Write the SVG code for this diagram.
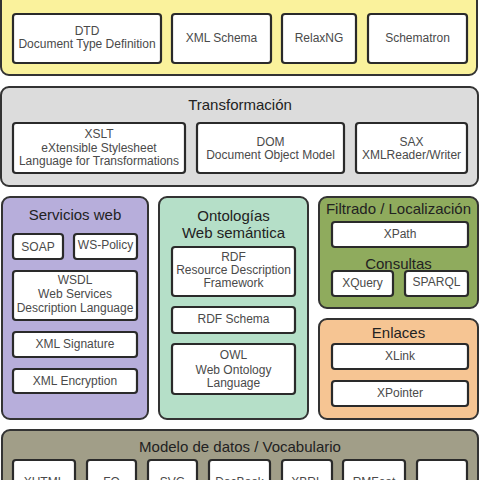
<svg xmlns="http://www.w3.org/2000/svg" width="480" height="480" viewBox="0 0 480 480">
<style>
.panel{stroke:#333;stroke-width:2}
.box{fill:#fff;stroke:#2a2a2a;stroke-width:2.2}
.t{font-family:"Liberation Sans",Arial,sans-serif;font-size:12px;fill:#4a4a4a;text-anchor:middle}
.h{font-family:"Liberation Sans",Arial,sans-serif;font-size:15px;fill:#222;text-anchor:middle}
</style>
<rect width="480" height="480" fill="#fff"/>
<g id="validacion">
<rect class="panel" x="1" y="-20" width="476" height="95" rx="8" fill="#faf29c"/>
<g id="dtd"><rect class="box" x="13" y="14" width="148" height="49" rx="3"/><text class="t" x="87" y="35">DTD</text><text class="t" x="87" y="48">Document Type Definition</text></g>
<g id="xmlschema"><rect class="box" x="172" y="14" width="99" height="49" rx="3"/><text class="t" x="221.5" y="42">XML Schema</text></g>
<g id="relaxng"><rect class="box" x="282" y="14" width="74" height="49" rx="3"/><text class="t" x="319" y="42">RelaxNG</text></g>
<g id="schematron"><rect class="box" x="368" y="14" width="99" height="49" rx="3"/><text class="t" x="417.5" y="42">Schematron</text></g>
</g>
<g id="transformacion">
<rect class="panel" x="1" y="87" width="477" height="99" rx="8" fill="#dcdcdc"/>
<text class="h" x="240" y="110">Transformación</text>
<g id="xslt"><rect class="box" x="13" y="123" width="172" height="50" rx="3"/><text class="t" x="99" y="138">XSLT</text><text class="t" x="99" y="152">eXtensible Stylesheet</text><text class="t" x="99" y="165">Language for Transformations</text></g>
<g id="dom"><rect class="box" x="197" y="123" width="147" height="50" rx="3"/><text class="t" x="270.5" y="146">DOM</text><text class="t" x="270.5" y="159">Document Object Model</text></g>
<g id="sax"><rect class="box" x="356" y="123" width="111" height="50" rx="3"/><text class="t" x="411.5" y="146">SAX</text><text class="t" x="411.5" y="159">XMLReader/Writer</text></g>
</g>
<g id="servicios">
<rect class="panel" x="2" y="197" width="146" height="222" rx="8" fill="#b7aedb"/>
<text class="h" x="75" y="220">Servicios web</text>
<g id="soap"><rect class="box" x="13" y="234" width="50" height="25" rx="3"/><text class="t" x="38" y="251">SOAP</text></g>
<g id="wspolicy"><rect class="box" x="74" y="234" width="63" height="25" rx="3"/><text class="t" x="105.5" y="249">WS-Policy</text></g>
<g id="wsdl"><rect class="box" x="13" y="271" width="124" height="49" rx="3"/><text class="t" x="75" y="284">WSDL</text><text class="t" x="75" y="298">Web Services</text><text class="t" x="75" y="312">Description Language</text></g>
<g id="xmlsig"><rect class="box" x="13" y="332" width="124" height="25" rx="3"/><text class="t" x="75" y="348">XML Signature</text></g>
<g id="xmlenc"><rect class="box" x="13" y="369" width="124" height="24" rx="3"/><text class="t" x="75" y="385">XML Encryption</text></g>
</g>
<g id="ontologias">
<rect class="panel" x="159" y="197" width="149" height="222" rx="8" fill="#b5dfc8"/>
<text class="h" x="233.5" y="221">Ontologías</text>
<text class="h" x="233.5" y="238">Web semántica</text>
<g id="rdf"><rect class="box" x="172" y="247" width="123" height="49" rx="3"/><text class="t" x="233.5" y="261">RDF</text><text class="t" x="233.5" y="274">Resource Description</text><text class="t" x="233.5" y="287">Framework</text></g>
<g id="rdfschema"><rect class="box" x="172" y="307" width="123" height="26" rx="3"/><text class="t" x="233.5" y="323">RDF Schema</text></g>
<g id="owl"><rect class="box" x="172" y="344" width="123" height="50" rx="3"/><text class="t" x="233.5" y="359">OWL</text><text class="t" x="233.5" y="374">Web Ontology</text><text class="t" x="233.5" y="387">Language</text></g>
</g>
<g id="filtrado">
<rect class="panel" x="319" y="197" width="159" height="111" rx="8" fill="#8fab5d"/>
<text class="h" x="398.5" y="214">Filtrado / Localización</text>
<g id="xpath"><rect class="box" x="332" y="222" width="136" height="25" rx="3"/><text class="t" x="400" y="238">XPath</text></g>
<text class="h" x="398.5" y="269">Consultas</text>
<g id="xquery"><rect class="box" x="332" y="271" width="61" height="25" rx="3"/><text class="t" x="362.5" y="287">XQuery</text></g>
<g id="sparql"><rect class="box" x="405" y="271" width="63" height="25" rx="3"/><text class="t" x="436.5" y="286">SPARQL</text></g>
</g>
<g id="enlaces">
<rect class="panel" x="319" y="319" width="159" height="100" rx="8" fill="#f6c593"/>
<text class="h" x="398.5" y="338">Enlaces</text>
<g id="xlink"><rect class="box" x="332" y="344" width="136" height="25" rx="3"/><text class="t" x="400" y="360">XLink</text></g>
<g id="xpointer"><rect class="box" x="332" y="381" width="136" height="25" rx="3"/><text class="t" x="400" y="397">XPointer</text></g>
</g>
<g id="modelo">
<rect class="panel" x="2" y="430" width="476" height="80" rx="8" fill="#a19e88"/>
<text class="h" x="240" y="452">Modelo de datos / Vocabulario</text>
<g id="xhtml"><rect class="box" x="13" y="460" width="62" height="40" rx="3"/><text class="t" x="44" y="486">XHTML</text></g>
<g id="fo"><rect class="box" x="87" y="460" width="49" height="40" rx="3"/><text class="t" x="111.5" y="486">FO</text></g>
<g id="svg"><rect class="box" x="148" y="460" width="49" height="40" rx="3"/><text class="t" x="172.5" y="486">SVG</text></g>
<g id="docbook"><rect class="box" x="209" y="460" width="61" height="40" rx="3"/><text class="t" x="239.5" y="486">DocBook</text></g>
<g id="xbrl"><rect class="box" x="282" y="460" width="50" height="40" rx="3"/><text class="t" x="307" y="486">XBRL</text></g>
<g id="rmfeat"><rect class="box" x="343" y="460" width="62" height="40" rx="3"/><text class="t" x="374" y="486">RMFeat</text></g>
<g id="otros"><rect class="box" x="417" y="460" width="50" height="40" rx="3"/></g>
</g>
<g id="connectors"/>
</svg>
